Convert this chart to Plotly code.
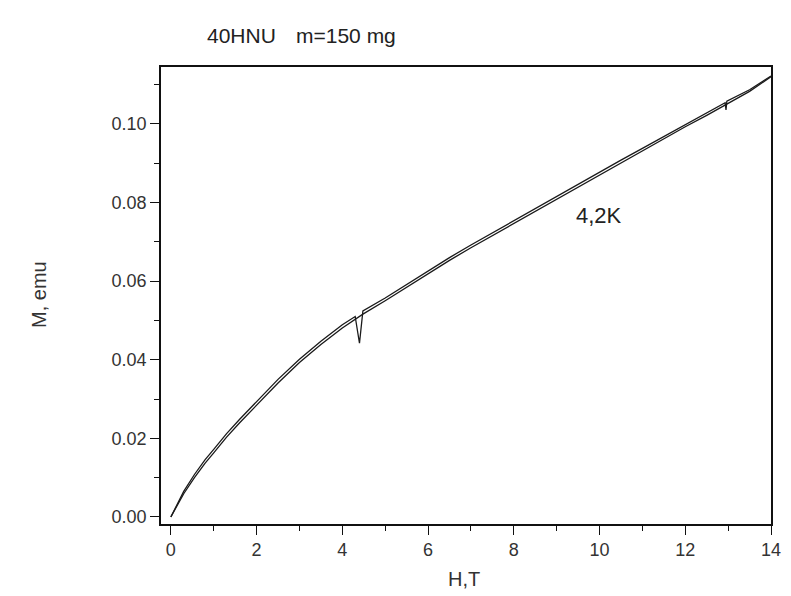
import plotly.graph_objects as go

# Field (T) and magnetization (emu)
H_up = [0.0, 0.1, 0.3, 0.55, 0.8, 1.0, 1.3, 1.6, 2.0, 2.5, 3.0, 3.5, 4.0, 4.3, 4.4, 4.48,
        5.0, 5.5, 6.0, 6.5, 7.0, 7.5, 8.0, 8.5, 9.0, 9.5, 10.0, 10.5, 11.0, 11.5, 12.0,
        12.5, 12.93, 12.95, 12.97, 13.5, 14.0]
M_up = [0.0000, 0.0022, 0.0065, 0.0108, 0.0146, 0.0172, 0.0212, 0.0248, 0.0294, 0.0350,
        0.0401, 0.0447, 0.0489, 0.0510, 0.0442, 0.0524,
        0.0557, 0.0592, 0.0626, 0.0660, 0.0692, 0.0723, 0.0754, 0.0785, 0.0815, 0.0846,
        0.0877, 0.0908, 0.0938, 0.0968, 0.0998, 0.1027, 0.1054, 0.1036, 0.1058, 0.1087, 0.1122]

H_down = [0.0, 0.1, 0.3, 0.55, 0.8, 1.0, 1.3, 1.6, 2.0, 2.5, 3.0, 3.5, 4.0, 4.3, 4.48,
          5.0, 5.5, 6.0, 6.5, 7.0, 7.5, 8.0, 8.5, 9.0, 9.5, 10.0, 10.5, 11.0, 11.5, 12.0,
          12.5, 13.0, 13.5, 14.0]
M_down = [0.0000, 0.0019, 0.0059, 0.0100, 0.0137, 0.0163, 0.0203, 0.0239, 0.0285, 0.0341,
          0.0393, 0.0439, 0.0481, 0.0502, 0.0516,
          0.0550, 0.0585, 0.0619, 0.0653, 0.0685, 0.0716, 0.0747, 0.0778, 0.0808, 0.0839,
          0.0870, 0.0901, 0.0932, 0.0962, 0.0993, 0.1022, 0.1052, 0.1083, 0.1120]

x_ticks = [0, 2, 4, 6, 8, 10, 12, 14]
y_ticks = [0.00, 0.02, 0.04, 0.06, 0.08, 0.10]

FONT = "Liberation Sans, Arial, sans-serif"
LINE = "#1a1a1a"

fig = go.Figure()
fig.add_trace(go.Scatter(x=H_up, y=M_up, mode="lines",
                         line=dict(color=LINE, width=1.3), showlegend=False))
fig.add_trace(go.Scatter(x=H_down, y=M_down, mode="lines",
                         line=dict(color=LINE, width=1.3), showlegend=False))

axis_common = dict(showline=True, linecolor="#111", linewidth=1.5, mirror=True,
                   showgrid=False, zeroline=False, ticks="outside", ticklen=9,
                   tickwidth=1.3, tickcolor="#111",
                   tickfont=dict(family=FONT, size=18, color="#333"))

fig.update_xaxes(range=[-0.23, 14.0], tickvals=x_ticks,
                 ticktext=[str(v) for v in x_ticks],
                 minor=dict(ticks="outside", ticklen=5, tickwidth=1.3,
                            tickcolor="#111", dtick=1, tick0=0),
                 **axis_common)
fig.update_yaxes(range=[-0.0018, 0.1145], tickvals=y_ticks,
                 ticktext=[f"{v:.2f}" for v in y_ticks],
                 minor=dict(ticks="outside", ticklen=5, tickwidth=1.3,
                            tickcolor="#111", dtick=0.01, tick0=0),
                 **axis_common)

# page body adds an 8px offset; plot area should span x 161..781, y 67..524
fig.update_layout(
    width=783, height=588,
    margin=dict(l=153, r=10, t=59, b=72),
    paper_bgcolor="white", plot_bgcolor="white",
    annotations=[
        dict(text="40HNU", xref="paper", yref="paper",
             x=(206 - 161) / 620, y=(524 - 36) / 457, xanchor="left", yanchor="middle",
             showarrow=False, font=dict(family=FONT, size=21, color="#222")),
        dict(text="m=150 mg", xref="paper", yref="paper",
             x=(296 - 161) / 620, y=(524 - 36) / 457, xanchor="left", yanchor="middle",
             showarrow=False, font=dict(family=FONT, size=21, color="#222")),
        dict(text="4,2K", xref="x", yref="y", x=9.98, y=0.0766,
             showarrow=False, font=dict(family=FONT, size=22, color="#222")),
        dict(text="H,T", xref="paper", yref="paper", x=(469 - 161) / 620,
             y=(524 - 579) / 457, xanchor="center", yanchor="middle",
             showarrow=False, font=dict(family=FONT, size=20, color="#333")),
        dict(text="M, emu", xref="paper", yref="paper", x=(37 - 161) / 620,
             y=(524 - 295) / 457, xanchor="center", yanchor="middle", textangle=-90,
             showarrow=False, font=dict(family=FONT, size=20, color="#333")),
    ],
)

fig.write_html("out.html")
